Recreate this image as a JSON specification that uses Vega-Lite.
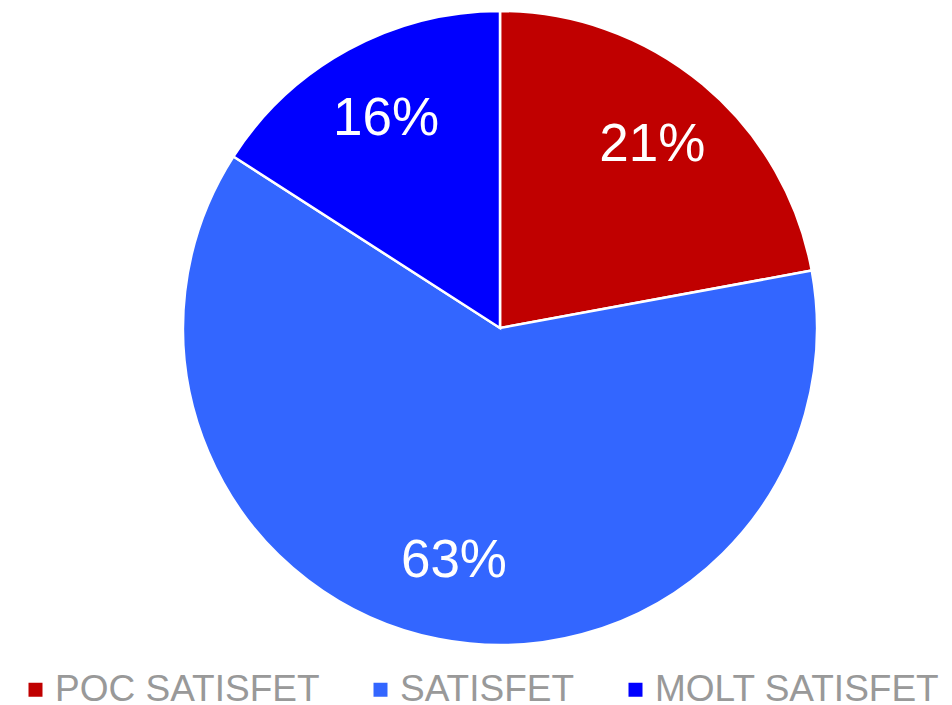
{
  "$schema": "https://vega.github.io/schema/vega-lite/v6.json",
  "width": 1000,
  "height": 656,
  "padding": {"left": 0, "top": 0, "right": 0, "bottom": 49},
  "autosize": "none",
  "background": "white",
  "data": {"values": [
    {"cat": "POC SATISFET", "value": 22.1, "ord": 1, "label": "21%"},
    {"cat": "SATISFET", "value": 62.0, "ord": 2, "label": "63%"},
    {"cat": "MOLT SATISFET", "value": 15.9, "ord": 3, "label": "16%"}
  ]},
  "encoding": {
    "theta": {"field": "value", "type": "quantitative", "stack": true},
    "order": {"field": "ord", "type": "quantitative"},
    "color": {
      "field": "cat", "type": "nominal",
      "scale": {"domain": ["POC SATISFET", "SATISFET", "MOLT SATISFET"], "range": ["#C00000", "#3366FF", "#0000FF"]},
      "sort": ["POC SATISFET", "SATISFET", "MOLT SATISFET"],
      "legend": {
        "title": null, "orient": "none", "direction": "horizontal",
        "legendX": 17, "legendY": 671,
        "symbolType": "square", "symbolSize": 196, "symbolStrokeWidth": 0,
        "labelFont": "Liberation Sans", "labelFontSize": 37, "labelColor": "#999999",
        "labelOffset": 1, "columnPadding": 42, "labelLimit": 400
      }
    }
  },
  "layer": [
    {"mark": {"type": "arc", "outerRadius": 317, "stroke": "white", "strokeWidth": 2.5}},
    {"mark": {"type": "text", "radius": 238, "fontSize": 53, "font": "Liberation Sans", "fill": "white", "baseline": "middle", "align": "center"},
     "encoding": {"text": {"field": "label"}, "color": {"value": "white"}}}
  ],
  "config": {"view": {"stroke": null}}
}
